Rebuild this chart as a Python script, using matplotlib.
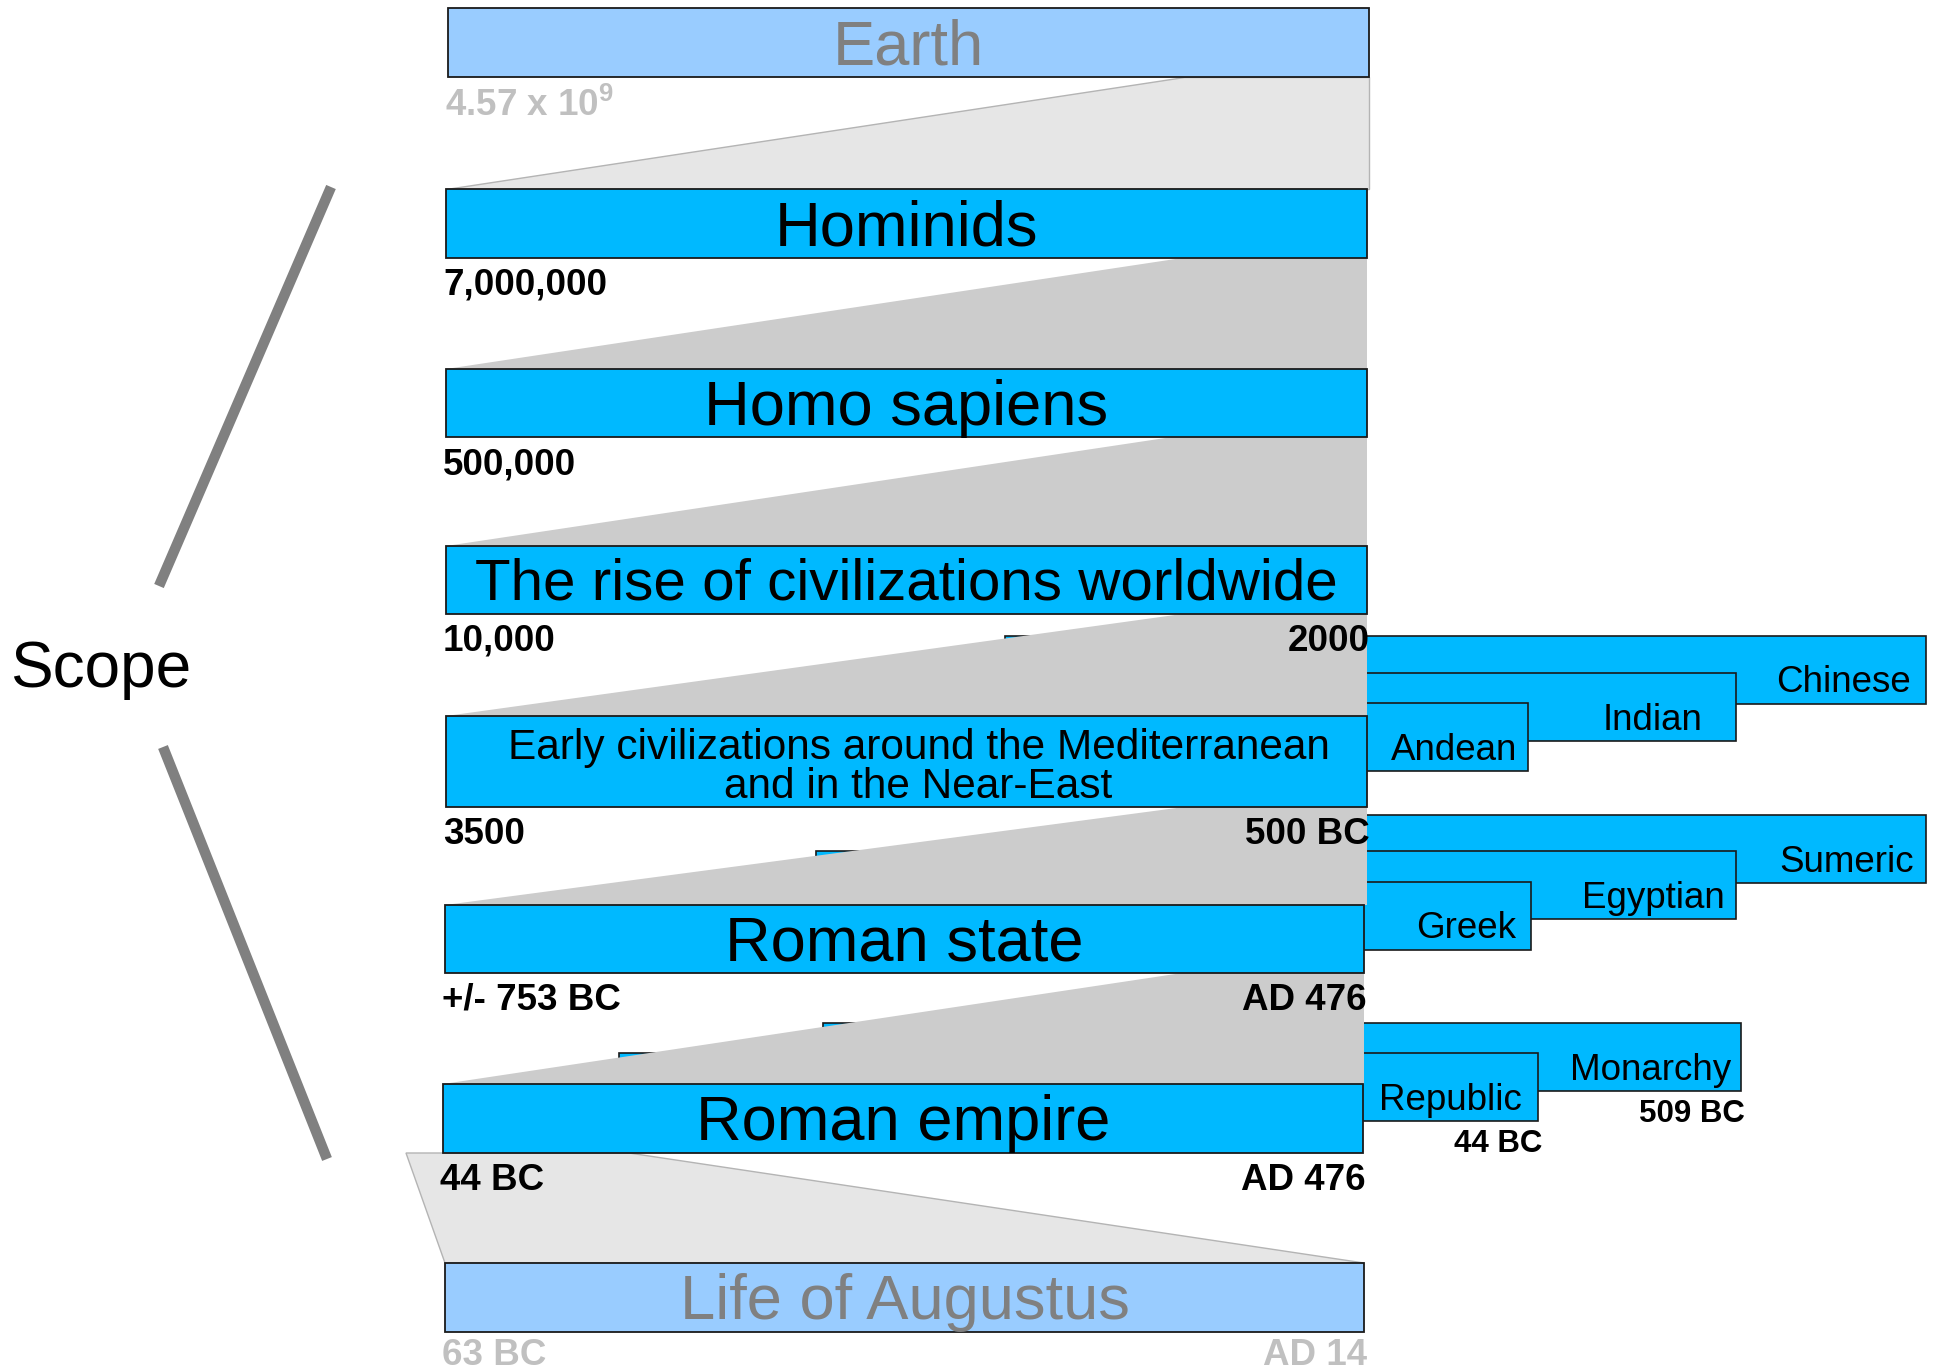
"""Scope diagram: nested time spans from Earth down to Augustus."""

import matplotlib
matplotlib.use("Agg")
import matplotlib.pyplot as plt
from matplotlib.patches import Rectangle, Polygon

plt.rcParams["font.family"] = ["Liberation Sans", "DejaVu Sans"]
plt.rcParams["mathtext.fontset"] = "custom"
plt.rcParams["mathtext.bf"] = "Liberation Sans:bold"
plt.rcParams["mathtext.rm"] = "Liberation Sans:bold"

# Main levels, from widest to narrowest scope
titles = ["Earth", "Hominids", "Homo sapiens", "The rise of civilizations worldwide",
          "Early civilizations around the Mediterranean\nand in the Near-East",
          "Roman state", "Roman empire", "Life of Augustus"]
start_labels = [r"4.57 x 10$^{\mathbf{9}}$", "7,000,000", "500,000", "10,000",
                "3500", "+/- 753 BC", "44 BC", "63 BC"]
end_labels = ["", "", "", "2000", "500 BC", "AD 476", "AD 476", "AD 14"]
faded = [True, False, False, False, False, False, False, True]

# Sub-periods shown at the right of three of the levels
side_groups = [["Chinese", "Indian", "Andean"],
               ["Sumeric", "Egyptian", "Greek"],
               ["Monarchy", "Republic"]]
side_end_labels = [["", "", ""], ["", "", ""], ["509 BC", "44 BC"]]

# geometry in pixels (y grows downward)
bar_top = [8, 189, 369, 546, 716, 905, 1084, 1263]
bar_bot = [77, 258, 437, 614, 807, 973, 1153, 1332]
bar_left = [448, 446, 446, 446, 446, 445, 443, 445]
bar_right = [1369, 1367, 1367, 1367, 1367, 1364, 1363, 1364]
trap_top_left = [1184, 1182, 1172, 1182, 1184, 1182]
title_size = [45.5, 45.5, 45.5, 42, 30.5, 45.5, 45.5, 45.5]
date_gap = [10, 10, 10, 10, 10, 10, 10, 6]

side_left = [[1005, 816, 650], [1200, 816, 650], [823, 619]]
side_right = [[1926, 1736, 1528], [1926, 1736, 1531], [1741, 1538]]
side_top = [[636, 673, 703], [815, 851, 882], [1023, 1053]]
side_pad = [[15, 33, 11], [12, 11, 15], [10, 16]]
side_h = 68

BLUE = "#00b9ff"
LIGHT_BLUE = "#99ccff"
GREY = "#cccccc"
LIGHT_GREY = "#e6e6e6"
FADED_TEXT = "#808080"
FADED_DATE = "#c0c0c0"

fig = plt.figure(figsize=(19.34, 13.72), dpi=100)
ax = fig.add_axes([0, 0, 1, 1])
ax.set_xlim(0, 1934)
ax.set_ylim(1372, 0)
ax.axis("off")

# side bars (drawn first, partly hidden behind the grey wedges)
for g, names in enumerate(side_groups):
    for k, name in enumerate(names):
        x0, x1, y0 = side_left[g][k], side_right[g][k], side_top[g][k]
        ax.add_patch(Rectangle((x0, y0), x1 - x0, side_h, facecolor=BLUE,
                               edgecolor="#1a1a1a", lw=1.2, zorder=1 + k * 0.1))
        ax.text(x1 - side_pad[g][k], y0 + side_h / 2 + 13, name, fontsize=26.5,
                ha="right", va="center", zorder=5)
        if side_end_labels[g][k]:
            ax.text(x1 + 4, y0 + side_h + 8, side_end_labels[g][k], fontsize=22.5,
                    fontweight="bold", ha="right", va="top", zorder=5)

# grey wedges linking each level to the next
for i in range(6):
    pts = [(trap_top_left[i], bar_bot[i]), (bar_right[i], bar_bot[i]),
           (bar_right[i], bar_top[i + 1]), (bar_left[i + 1], bar_top[i + 1])]
    color = LIGHT_GREY if i == 0 else GREY
    edge = "#b4b4b4" if i == 0 else "none"
    ax.add_patch(Polygon(pts, closed=True, facecolor=color, edgecolor=edge,
                         lw=1, zorder=2))

# wedge from Roman empire down to Life of Augustus
ax.add_patch(Polygon([(406, bar_bot[6]), (629, bar_bot[6]),
                      (bar_right[7], bar_top[7]), (bar_left[7], bar_top[7])],
                     closed=True, facecolor=LIGHT_GREY, edgecolor="#b4b4b4",
                     lw=1, zorder=2))

# main bars
for i, title in enumerate(titles):
    fc = LIGHT_BLUE if faded[i] else BLUE
    ax.add_patch(Rectangle((bar_left[i], bar_top[i]), bar_right[i] - bar_left[i],
                           bar_bot[i] - bar_top[i], facecolor=fc,
                           edgecolor="#1a1a1a", lw=1.3, zorder=3))
    cx = (bar_left[i] + bar_right[i]) / 2
    cy = (bar_top[i] + bar_bot[i]) / 2
    tc = FADED_TEXT if faded[i] else "black"
    lines = title.split("\n")
    if len(lines) == 1:
        ax.text(cx, cy + title_size[i] * 0.716 / 0.72 / 2 - 1, title,
                fontsize=title_size[i], color=tc, ha="center", va="baseline",
                zorder=4)
    else:
        for j, line in enumerate(lines):
            ax.text(cx + 12, cy - 14 + 40 * j + 11, line, fontsize=title_size[i],
                    color=tc, ha="center", va="baseline", zorder=4)

    dc = FADED_DATE if faded[i] else "black"
    ax.text(bar_left[i] - 3, bar_bot[i] + date_gap[i], start_labels[i],
            fontsize=26.5, fontweight="bold", color=dc, ha="left", va="top",
            zorder=5)
    if end_labels[i]:
        ax.text(bar_right[i] + 3, bar_bot[i] + date_gap[i], end_labels[i],
                fontsize=26.5, fontweight="bold", color=dc, ha="right", va="top",
                zorder=5)

# "Scope" bracket
ax.plot([331, 159], [187, 586], color="#808080", lw=7.5, solid_capstyle="butt")
ax.plot([163, 327], [747, 1159], color="#808080", lw=7.5, solid_capstyle="butt")
ax.text(10, 664, "Scope", fontsize=46, ha="left", va="center_baseline")

fig.savefig("out.png", dpi=100)
